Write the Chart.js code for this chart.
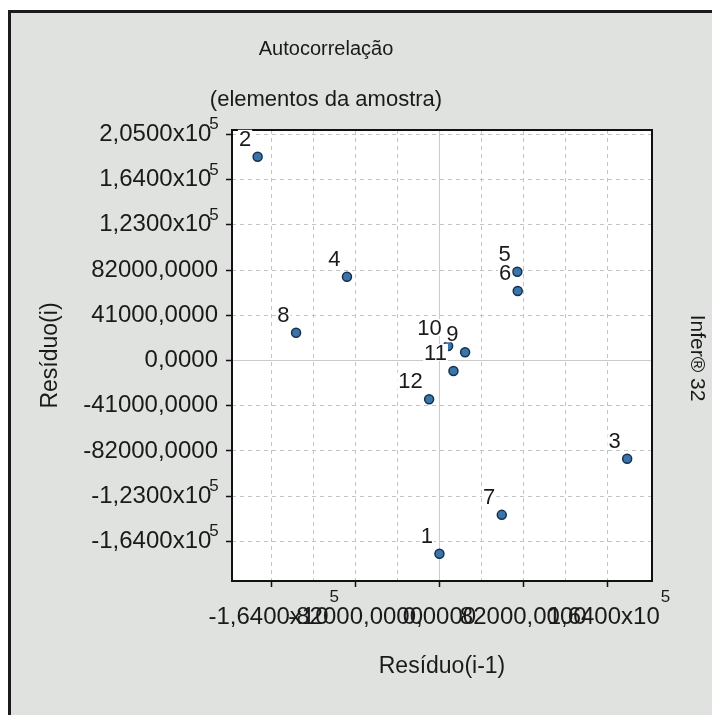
<!DOCTYPE html>
<html><head><meta charset="utf-8">
<script src="https://cdn.jsdelivr.net/npm/chart.js@4"></script>
<style>
html,body{margin:0;padding:0;background:#fff;overflow:hidden;width:712px;height:715px;}
#frame{position:absolute;left:8px;top:10px;width:720px;height:720px;border-left:3px solid #1b1b1b;border-top:3px solid #1b1b1b;background:#dfe2de;}
#c{position:absolute;left:0;top:0;}
</style></head><body>
<div id="frame"></div>
<canvas id="c" width="712" height="715"></canvas>
<script>
// ---- data ----
const pointLabels = ['1','2','3','4','5','6','7','8','9','10','11','12'];
const residuoAnterior = [0, -177900, 183700, -90500, 76200, 76600, 61000, -140300, 25100, 8500, 13700, -10100];
const residuoAtual    = [-175300, 184700, -89200, 75900, 80500, 63000, -140000, 25200, 7400, 13100, -9500, -35200];

// tick labels: mantissa text (trailing space leaves room for the exponent) + exponent
const xTickValues = [-164000, -82000, 0, 82000, 164000];
const xTickLabels = ['-1,6400x10 ', '-82000,0000', '0,0000', '82000,0000', '1,6400x10 '];
const xTickExp    = ['5', '', '', '', '5'];
const xGridValues = [-164000, -123000, -82000, -41000, 0, 41000, 82000, 123000, 164000];
const yTickValues = [-164000, -123000, -82000, -41000, 0, 41000, 82000, 123000, 164000, 205000];
const yTickLabels = ['-1,6400x10 ', '-1,2300x10 ', '-82000,0000', '-41000,0000', '0,0000',
                     '41000,0000', '82000,0000', '1,2300x10 ', '1,6400x10 ', '2,0500x10 '];
const yTickExp    = ['5', '5', '', '', '', '', '', '5', '5', '5'];
const xRange = [-203000, 208000];
const yRange = [-200000, 209000];

const titleText = 'Autocorrelação';
const subtitleText = '(elementos da amostra)';
const xTitle = 'Resíduo(i-1)';
const yTitle = 'Resíduo(i)';
const sideText = 'Infer® 32';

const FONT = "'Liberation Sans', Arial, sans-serif";
const TXT = '#1a1a1a';
const TICK_SIZE = 24;

const plotDecor = {
  id: 'plotDecor',
  beforeDraw(chart) {
    const {ctx, chartArea: a} = chart;
    ctx.save();
    ctx.fillStyle = '#ffffff';
    ctx.fillRect(a.left, a.top, a.right - a.left, a.bottom - a.top);
    ctx.restore();
  },
  beforeDatasetsDraw(chart) {
    const {ctx, chartArea: a, scales} = chart;
    ctx.save();
    ctx.strokeStyle = '#c9c9c9';
    ctx.lineWidth = 1;
    const x0 = scales.x.getPixelForValue(0), y0 = scales.y.getPixelForValue(0);
    ctx.beginPath();
    ctx.moveTo(x0, a.top); ctx.lineTo(x0, a.bottom);
    ctx.moveTo(a.left, y0); ctx.lineTo(a.right, y0);
    ctx.stroke();
    ctx.strokeStyle = '#111';
    ctx.lineWidth = 2;
    ctx.strokeRect(a.left, a.top, a.right - a.left, a.bottom - a.top);
    ctx.restore();
  },
  afterDatasetsDraw(chart) {
    const {ctx} = chart;
    const meta = chart.getDatasetMeta(0);
    ctx.save();
    ctx.font = '22px ' + FONT;
    ctx.textAlign = 'right';
    ctx.textBaseline = 'alphabetic';
    meta.data.forEach((pt, i) => {
      const t = pointLabels[i];
      const tx = pt.x - 6.5, ty = pt.y - 11;
      const m = ctx.measureText(t);
      const asc = m.actualBoundingBoxAscent;
      ctx.fillStyle = '#ffffff';
      ctx.fillRect(tx - m.width - 1, ty - asc - 1, m.width + 2, asc + 2);
      ctx.fillStyle = TXT;
      ctx.fillText(t, tx, ty);
    });
    ctx.restore();
  },
  afterDraw(chart) {
    const {ctx, scales} = chart;
    ctx.save();
    // exponents of the tick labels
    ctx.font = TICK_SIZE + 'px ' + FONT;
    const spaceW = ctx.measureText(' ').width;
    const expFont = '17px ' + FONT;
    ctx.fillStyle = TXT;
    ctx.textBaseline = 'alphabetic';
    ctx.textAlign = 'left';
    const ys = scales.y;
    const yLabelRight = ys.right - ys.options.grid.tickLength - ys.options.ticks.padding;
    yTickValues.forEach((v, i) => {
      if (!yTickExp[i]) return;
      const py = ys.getPixelForValue(v);
      ctx.font = expFont;
      ctx.fillText(yTickExp[i], yLabelRight - spaceW - 2, py - 5);
    });
    const xs = scales.x;
    const xLabelMid = xs.top + xs.options.grid.tickLength + xs.options.ticks.padding + TICK_SIZE * 1.2 / 2;
    xTickValues.forEach((v, i) => {
      if (!xTickExp[i]) return;
      ctx.font = TICK_SIZE + 'px ' + FONT;
      const w = ctx.measureText(xTickLabels[i]).width;
      const px = xs.getPixelForValue(v);
      ctx.font = expFont;
      ctx.fillText(xTickExp[i], px + w / 2 - spaceW + 1, xLabelMid - 15);
    });
    // side text
    ctx.translate(697, 358);
    ctx.rotate(Math.PI / 2);
    ctx.font = '21px ' + FONT;
    ctx.textAlign = 'center';
    ctx.textBaseline = 'middle';
    ctx.fillText(sideText, 0, 0);
    ctx.restore();
  }
};

const lookup = (vals, labels) => (v) => {
  const i = vals.indexOf(v);
  return i >= 0 ? labels[i] : '';
};

new Chart(document.getElementById('c'), {
  type: 'scatter',
  data: {
    datasets: [{
      data: residuoAnterior.map((x, i) => ({x: x, y: residuoAtual[i]})),
      pointStyle: 'circle',
      pointRadius: 4.5,
      pointBackgroundColor: '#3a74a8',
      pointBorderColor: '#14304f',
      pointBorderWidth: 1.5
    }]
  },
  options: {
    responsive: false,
    animation: false,
    events: [],
    layout: {padding: {left: 0, right: 60, top: 0, bottom: 0}},
    plugins: {
      legend: {display: false},
      tooltip: {enabled: false},
      title: {display: true, text: titleText, color: TXT,
              font: {family: FONT, size: 20, weight: 'normal'}, padding: {top: 37, bottom: 26}},
      subtitle: {display: true, text: subtitleText, color: TXT,
              font: {family: FONT, size: 22, weight: 'normal'}, padding: {top: 0, bottom: 16.6}}
    },
    scales: {
      x: {
        type: 'linear', position: 'bottom', min: xRange[0], max: xRange[1],
        afterBuildTicks: (s) => { s.ticks = xGridValues.map(v => ({value: v})); },
        afterFit: (s) => { s.height = 134; },
        ticks: {autoSkip: false, maxRotation: 0, minRotation: 0, padding: 16, color: TXT,
                font: {family: FONT, size: TICK_SIZE}, callback: lookup(xTickValues, xTickLabels)},
        grid: {
          color: (c) => (c.tick && c.tick.value === 0) ? 'rgba(0,0,0,0)' : '#c4c4c4',
          lineWidth: 1,
          tickColor: (c) => (c.tick && xTickValues.includes(c.tick.value)) ? '#111' : 'rgba(0,0,0,0)',
          tickLength: 6, tickWidth: 1.5
        },
        border: {display: false, dash: [4, 4]},
        title: {display: true, text: xTitle, color: TXT, font: {family: FONT, size: 23},
                padding: {top: 0, bottom: 35}}
      },
      y: {
        type: 'linear', position: 'left', min: yRange[0], max: yRange[1],
        afterBuildTicks: (s) => { s.ticks = yTickValues.map(v => ({value: v})); },
        afterFit: (s) => { s.width = 232; },
        ticks: {autoSkip: false, padding: 8, color: TXT,
                font: {family: FONT, size: TICK_SIZE}, callback: lookup(yTickValues, yTickLabels)},
        grid: {
          color: (c) => (c.tick && c.tick.value === 0) ? 'rgba(0,0,0,0)' : '#c4c4c4',
          lineWidth: 1, tickColor: '#111', tickLength: 6, tickWidth: 1.5
        },
        border: {display: false, dash: [4, 4]},
        title: {display: true, text: yTitle, color: TXT, font: {family: FONT, size: 23},
                padding: {top: 37, bottom: 0}}
      }
    }
  },
  plugins: [plotDecor]
});
</script>
</body></html>
